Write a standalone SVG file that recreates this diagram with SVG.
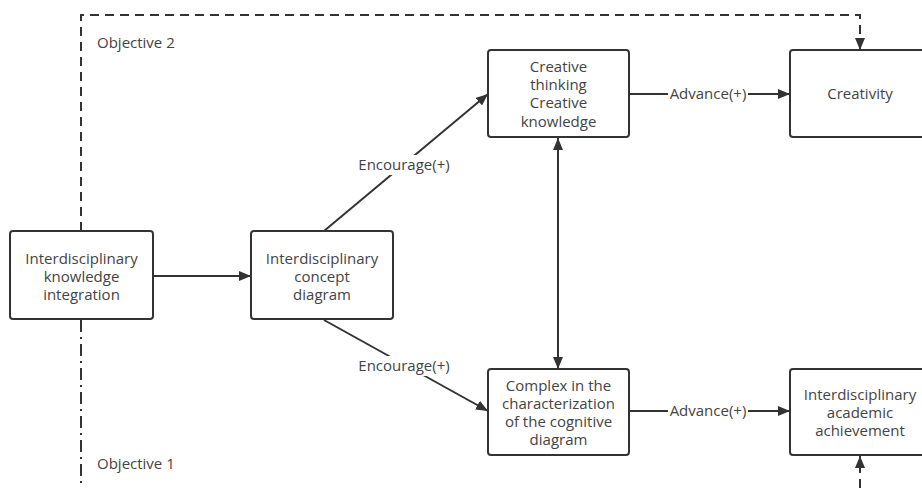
<svg xmlns="http://www.w3.org/2000/svg" width="922" height="488" viewBox="0 0 922 488">
<style>
.box{fill:#fff;stroke:#333;stroke-width:2}
.t{font-family:"Open Sans","Noto Sans",sans-serif;font-size:15px;fill:#444;text-anchor:middle}
.tl{font-family:"Open Sans","Noto Sans",sans-serif;font-size:15px;fill:#444}
.ln{fill:none;stroke:#333;stroke-width:2}
.dash{fill:none;stroke:#333;stroke-width:2;stroke-dasharray:9 6}
.dd{fill:none;stroke:#333;stroke-width:2;stroke-dasharray:12 5 2 5}
.lbg{fill:#fff}
</style>
<defs>
<marker id="ah" viewBox="0 0 12 10" refX="12" refY="5" markerWidth="12" markerHeight="10" markerUnits="userSpaceOnUse" orient="auto-start-reverse">
<path d="M0,0 L12,5 L0,10 Z" fill="#333"/>
</marker>
</defs>
<rect width="922" height="488" fill="#fff"/>
<g id="connectors">
<path class="dash" d="M81,231 V15 H860 V50" marker-end="url(#ah)"/>
<path class="dd" d="M81,320 V488"/>
<path class="dash" d="M860,488 V456" marker-end="url(#ah)"/>
<path class="ln" d="M154,276 H251" marker-end="url(#ah)"/>
<path class="ln" d="M324,231 L488,94" marker-end="url(#ah)"/>
<path class="ln" d="M324,320 L488,411" marker-end="url(#ah)"/>
<path class="ln" d="M558,138 V369" marker-start="url(#ah)" marker-end="url(#ah)"/>
<path class="ln" d="M630,94 H790" marker-end="url(#ah)"/>
<path class="ln" d="M630,411 H790" marker-end="url(#ah)"/>
<rect class="lbg" x="356" y="155" width="96" height="20"/>
<text class="t" x="404" y="170">Encourage(+)</text>
<rect class="lbg" x="356" y="356" width="96" height="20"/>
<text class="t" x="404" y="371">Encourage(+)</text>
<rect class="lbg" x="668" y="84" width="80" height="20"/>
<text class="t" x="708" y="99">Advance(+)</text>
<rect class="lbg" x="668" y="401" width="80" height="20"/>
<text class="t" x="708" y="416">Advance(+)</text>
</g>
<g id="objective2"><text class="tl" x="97" y="48">Objective 2</text></g>
<g id="objective1"><text class="tl" x="97" y="469">Objective 1</text></g>
<g id="n1">
<rect class="box" x="10" y="231" width="143" height="88" rx="3"/>
<text class="t" x="81.5" y="264">Interdisciplinary</text>
<text class="t" x="81.5" y="282">knowledge</text>
<text class="t" x="81.5" y="300">integration</text>
</g>
<g id="n2">
<rect class="box" x="251" y="231" width="142" height="88" rx="3"/>
<text class="t" x="322" y="264">Interdisciplinary</text>
<text class="t" x="322" y="282">concept</text>
<text class="t" x="322" y="300">diagram</text>
</g>
<g id="n3">
<rect class="box" x="488" y="50" width="141" height="87" rx="3"/>
<text class="t" x="558.5" y="72">Creative</text>
<text class="t" x="558.5" y="90">thinking</text>
<text class="t" x="558.5" y="108">Creative</text>
<text class="t" x="558.5" y="127">knowledge</text>
</g>
<g id="n4">
<rect class="box" x="790" y="50" width="140" height="87" rx="3"/>
<text class="t" x="860" y="99">Creativity</text>
</g>
<g id="n5">
<rect class="box" x="488" y="369" width="141" height="86" rx="3"/>
<text class="t" x="558.5" y="391">Complex in the</text>
<text class="t" x="558.5" y="409">characterization</text>
<text class="t" x="558.5" y="427">of the cognitive</text>
<text class="t" x="558.5" y="445">diagram</text>
</g>
<g id="n6">
<rect class="box" x="790" y="369" width="140" height="86" rx="3"/>
<text class="t" x="860" y="400">Interdisciplinary</text>
<text class="t" x="860" y="418">academic</text>
<text class="t" x="860" y="436">achievement</text>
</g>
</svg>
